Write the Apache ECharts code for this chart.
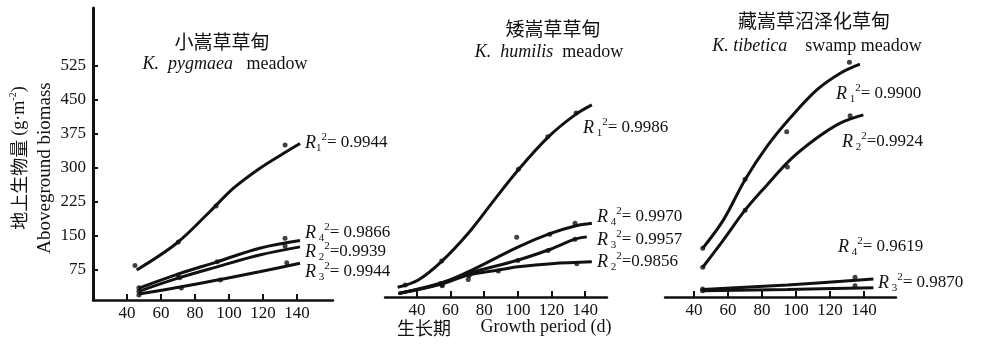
<!DOCTYPE html>
<html>
<head>
<meta charset="utf-8">
<script src="https://cdn.jsdelivr.net/npm/echarts@6/dist/echarts.min.js"></script>
<style>
  html, body { margin: 0; padding: 0; background: #fff; }
  #chart { width: 984px; height: 345px; }
</style>
</head>
<body>
<div id="chart"></div>
<script>
// tick labels
const xTicks = [40, 60, 80, 100, 120, 140];
const yTicks = [75, 150, 225, 300, 375, 450, 525];

// K. pygmaea meadow: fitted curves + observed points
const p1Fit1 = [[45.7, 75], [69.2, 134], [88.8, 204], [102.5, 255], [118, 299], [132, 332], [141.8, 354]];
const p1Pts1 = [[44.7, 85], [70.2, 137], [92.4, 216], [133, 351]];
const p1Fit4 = [[47, 35], [70, 66], [93, 93], [118, 123], [141.8, 140]];
const p1Pts4 = [[47, 36], [70, 64], [93, 93], [133, 145]];
const p1Fit2 = [[47, 28], [70, 57], [93, 82], [118, 108], [141.8, 126]];
const p1Pts2 = [[47, 28], [71, 58], [133, 128]];
const p1Fit3 = [[47, 22], [72, 38], [94.7, 54], [118, 71], [141.8, 90]];
const p1Pts3 = [[47, 20], [72, 35], [95, 53], [134, 91]];

// K. humilis meadow
const p2Fit1 = [[28.5, 37], [40.8, 53], [54.7, 94], [70.5, 156], [84.4, 222], [100.3, 296], [118, 368], [134, 417], [144, 439]];
const p2Pts1 = [[33, 42], [54.7, 95], [100.3, 297], [117.8, 369], [134.6, 421]];
const p2Fit4 = [[29, 23], [54.7, 47], [70.5, 71], [100.3, 126], [119, 155], [134, 172], [144, 178]];
const p2Pts4 = [[54, 45], [70, 68], [99.3, 147], [119, 154], [134, 178]];
const p2Fit3 = [[29, 23], [54.7, 45], [70.5, 67], [100.3, 97], [118, 119], [134, 143], [141, 148]];
const p2Pts3 = [[55, 40], [71, 62], [100, 96], [118, 118], [134, 143]];
const p2Fit2 = [[29, 23], [54.7, 44], [70.5, 64], [88.4, 75], [100.3, 82], [120, 89], [144, 93]];
const p2Pts2 = [[55, 42], [70.5, 54], [88.4, 73], [135, 89]];

// K. tibetica swamp meadow
const p3Fit1 = [[45.1, 123], [57.2, 185], [70, 274], [82.8, 347], [96.5, 410], [112.2, 472], [126, 509], [137.6, 529]];
const p3Pts1 = [[45.1, 123], [70, 275], [94.5, 380], [131.4, 533]];
const p3Fit2 = [[45.1, 81], [57.2, 141], [70, 207], [82.8, 262], [96.5, 318], [112.2, 366], [126, 399], [139.6, 417]];
const p3Pts2 = [[45.1, 81], [70, 207], [94.9, 302], [131.8, 415]];
const p3Fit4 = [[45, 32], [95, 42], [145.5, 55]];
const p3Pts4 = [[45, 33], [134.7, 59]];
const p3Fit3 = [[45, 29], [95, 32], [145.5, 36]];
const p3Pts3 = [[45, 29], [134.7, 40]];

const serif = 'Liberation Serif';
const cjk = 'Noto Sans CJK SC';
const ink = '#111';

const panels = [
  { fits: [p1Fit1, p1Fit4, p1Fit2, p1Fit3], pts: [p1Pts1, p1Pts4, p1Pts2, p1Pts3] },
  { fits: [p2Fit1, p2Fit4, p2Fit3, p2Fit2], pts: [p2Pts1, p2Pts4, p2Pts3, p2Pts2] },
  { fits: [p3Fit1, p3Fit2, p3Fit4, p3Fit3], pts: [p3Pts1, p3Pts2, p3Pts4, p3Pts3] }
];

const series = [];
panels.forEach((p, i) => {
  p.fits.forEach(d => series.push({
    type: 'line', xAxisIndex: i, yAxisIndex: i, data: d,
    smooth: 0.35, showSymbol: false, silent: true,
    lineStyle: { color: ink, width: 3 }
  }));
  p.pts.forEach(d => series.push({
    type: 'scatter', xAxisIndex: i, yAxisIndex: i, data: d,
    symbolSize: 5, itemStyle: { color: ink }
  }));
});

function xAx(idx, min, max) {
  return {
    type: 'value', gridIndex: idx, min: min, max: max,
    axisLine: { lineStyle: { color: ink, width: 2.5 } },
    axisTick: { inside: true, length: 6, lineStyle: { color: ink, width: 2 }, customValues: xTicks },
    axisLabel: { customValues: xTicks, color: ink, fontFamily: serif, fontSize: 17, margin: 5 },
    splitLine: { show: false }
  };
}
function yAx(idx, min, max, show) {
  return {
    type: 'value', gridIndex: idx, min: min, max: max, show: show,
    axisLine: { show: true, lineStyle: { color: ink, width: 3 } },
    axisTick: { inside: true, length: 5, lineStyle: { color: ink, width: 2 }, customValues: yTicks },
    axisLabel: { customValues: yTicks, color: ink, fontFamily: serif, fontSize: 17, margin: 7 },
    splitLine: { show: false }
  };
}

const richR = {
  r: { fontFamily: serif, fontStyle: 'italic', fontSize: 18, lineHeight: 22, fill: ink },
  s: { fontFamily: serif, fontSize: 11, verticalAlign: 'bottom', lineHeight: 22, fill: ink },
  p: { fontFamily: serif, fontSize: 11, verticalAlign: 'top', lineHeight: 22, fill: ink },
  t: { fontFamily: serif, fontSize: 17, lineHeight: 22, fill: ink }
};
function rLabel(sub, val, x, y, gap) {
  return {
    type: 'text', x: x, y: y,
    style: {
      text: '{r|R}{s|' + gap + sub + '}{p|2}{t|' + val + '}',
      rich: richR, verticalAlign: 'middle', align: 'left'
    }
  };
}
function txt(text, x, y, extra) {
  return {
    type: 'text', x: x, y: y,
    style: Object.assign({ text: text, fill: ink, align: 'center', verticalAlign: 'middle' }, extra)
  };
}

const titleRich = {
  i: { fontFamily: serif, fontStyle: 'italic', fontSize: 18, fill: ink },
  n: { fontFamily: serif, fontSize: 18, fill: ink }
};

const graphic = [
  // titles
  txt('小嵩草草甸', 222, 42, { fontFamily: cjk, fontSize: 19 }),
  txt('{i|K.  pygmaea}{n|   meadow}', 225, 64, { rich: titleRich }),
  txt('矮嵩草草甸', 553, 29, { fontFamily: cjk, fontSize: 19 }),
  txt('{i|K.  humilis}{n|  meadow}', 549, 52, { rich: titleRich }),
  txt('藏嵩草沼泽化草甸', 814, 21, { fontFamily: cjk, fontSize: 19 }),
  txt('{i|K. tibetica}{n|    swamp meadow}', 817, 46, { rich: titleRich }),
  // axis names
  {
    type: 'text', x: 19, y: 158, rotation: Math.PI / 2,
    style: {
      text: '{c|地上生物量 }{a|(g·m}{u|-2}{a|)}', align: 'center', verticalAlign: 'middle',
      rich: {
        c: { fontFamily: cjk, fontSize: 18, lineHeight: 22, fill: ink },
        a: { fontFamily: serif, fontSize: 18, lineHeight: 22, fill: ink },
        u: { fontFamily: serif, fontSize: 10, verticalAlign: 'top', lineHeight: 22, fill: ink }
      }
    }
  },
  {
    type: 'text', x: 45, y: 168, rotation: Math.PI / 2,
    style: { text: 'Aboveground biomass', fontFamily: serif, fontSize: 19, fill: ink, align: 'center', verticalAlign: 'middle' }
  },
  txt('生长期', 424, 328, { fontFamily: cjk, fontSize: 18 }),
  txt('Growth period (d)', 546, 327, { fontFamily: serif, fontSize: 18 }),
  // R² annotations
  rLabel('1', '= 0.9944', 305, 143, ''),
  rLabel('4', '= 0.9866', 305, 233, ' '),
  rLabel('2', '=0.9939', 305, 252, ' '),
  rLabel('3', '= 0.9944', 305, 272, ' '),
  rLabel('1', '= 0.9986', 583, 128, ' '),
  rLabel('4', '= 0.9970', 597, 217, ' '),
  rLabel('3', '= 0.9957', 597, 240, ' '),
  rLabel('2', '=0.9856', 597, 262, ' '),
  rLabel('1', '= 0.9900', 836, 94, ' '),
  rLabel('2', '=0.9924', 842, 142, ' '),
  rLabel('4', '= 0.9619', 838, 247, ' '),
  rLabel('3', '= 0.9870', 878, 283, ' ')
];

const chart = echarts.init(document.getElementById('chart'), null, { renderer: 'canvas' });
chart.setOption({
  animation: false,
  backgroundColor: '#fff',
  grid: [
    { left: 93, top: 8, width: 240, height: 292 },
    { left: 385, top: 8, width: 222, height: 289 },
    { left: 665, top: 8, width: 231, height: 289 }
  ],
  xAxis: [xAx(0, 20, 161.2), xAx(1, 21, 153), xAx(2, 22.9, 158.8)],
  yAxis: [yAx(0, 8.8, 653, true), yAx(1, 15.4, 652.8, false), yAx(2, 15.4, 652.8, false)],
  series: series,
  graphic: graphic
});
</script>
</body>
</html>
